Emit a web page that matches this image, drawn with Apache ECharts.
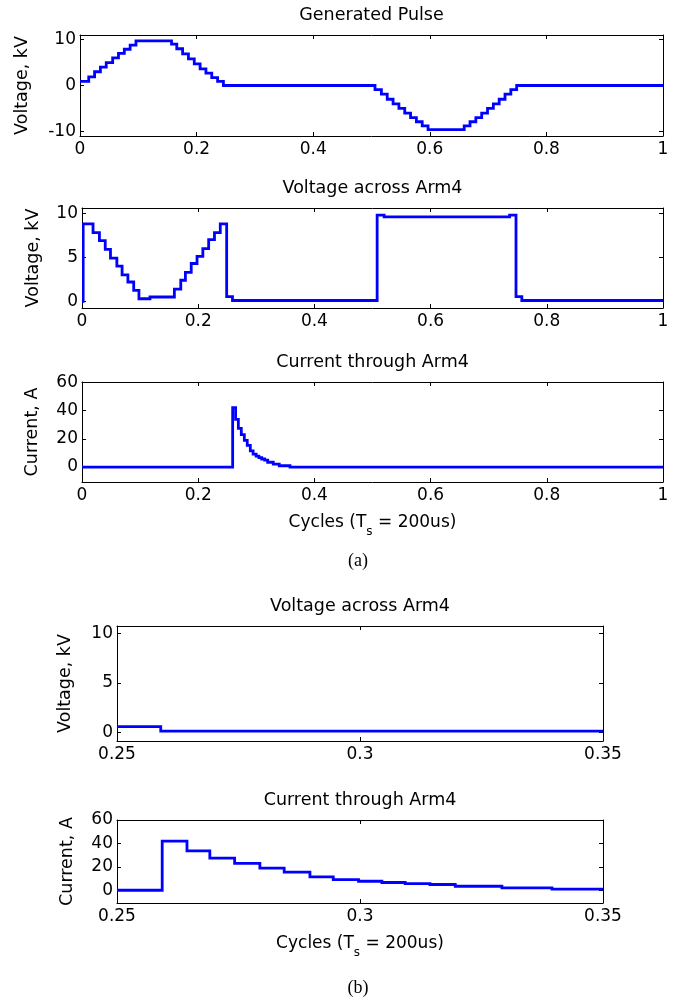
<!DOCTYPE html>
<html><head><meta charset="utf-8">
<script src="https://cdn.jsdelivr.net/npm/echarts@6/dist/echarts.min.js"></script>
<style>html,body{margin:0;padding:0;background:#fff}#c{width:681px;height:1000px}</style>
</head><body><div id="c"></div>
<script>
// ---- data ----
const pulseT = [0, 0.015, 0.025, 0.035, 0.045, 0.056, 0.066, 0.076, 0.086, 0.096,
  0.157, 0.166, 0.176, 0.186, 0.196, 0.206, 0.216, 0.226, 0.236, 0.246,
  0.506, 0.517, 0.527, 0.537, 0.547, 0.557, 0.567, 0.577, 0.587, 0.597,
  0.659, 0.669, 0.679, 0.689, 0.699, 0.709, 0.719, 0.729, 0.739, 0.749, 1];
const pulseV = [0.9, 1.9, 3.0, 4.0, 5.0, 6.0, 7.0, 7.9, 8.8, 9.7,
  9.0, 8.0, 6.9, 5.8, 4.7, 3.6, 2.7, 1.7, 0.9, 0,
  -0.9, -1.9, -3.0, -4.0, -5.0, -6.0, -7.0, -7.9, -8.8, -9.6,
  -8.8, -7.9, -7.0, -6.0, -5.0, -4.0, -3.0, -1.9, -0.9, 0, 0];

const armVT = [0, 0.002, 0.019, 0.030, 0.040, 0.049, 0.060, 0.069, 0.079, 0.089, 0.098, 0.117,
  0.159, 0.170, 0.178, 0.188, 0.198, 0.208, 0.218, 0.228, 0.238, 0.249, 0.259,
  0.508, 0.520, 0.736, 0.747, 0.757, 1];
const armVV = [0, 8.8, 7.8, 6.9, 5.9, 4.9, 4.0, 3.0, 2.2, 1.25, 0.3, 0.5,
  1.4, 2.4, 3.3, 4.3, 5.1, 6.0, 7.0, 7.8, 8.8, 0.55, 0.1,
  9.8, 9.6, 9.8, 0.55, 0.1, 0.1];

const armIT = [0, 0.2593, 0.2644, 0.2691, 0.2742, 0.2794, 0.2844, 0.2897, 0.2945, 0.2997,
  0.3045, 0.3093, 0.3144, 0.3196, 0.3292, 0.3395, 0.358, 1];
const armIV = [0, 42, 33.7, 27.4, 22.9, 18.9, 15.4, 11.4, 9.1, 7.7,
  6.6, 5.7, 4.9, 3.4, 2.0, 0.9, 0, 0];

const titles = ['Generated Pulse', 'Voltage across Arm4', 'Current through Arm4',
  'Voltage across Arm4', 'Current through Arm4'];
const yNames = ['Voltage, kV', 'Voltage, kV', 'Current, A', 'Voltage, kV', 'Current, A'];
const yTicksPulse = [-10, 0, 10];
const yTicksVolt = [0, 5, 10];
const yTicksCurr = [0, 20, 40, 60];
const captions = ['(a)', '(b)'];

// ---- layout ----
const FONT = 'DejaVu Sans';
const FS = 17;
const FT = 17.5;
const grids = [
  {left: 80, top: 35, width: 583, height: 101},
  {left: 82, top: 208, width: 581, height: 100},
  {left: 82, top: 382, width: 581, height: 100},
  {left: 117, top: 626, width: 486, height: 115},
  {left: 117, top: 820, width: 486, height: 83}
];
const xr = [[0,1,0.2],[0,1,0.2],[0,1,0.2],[0.25,0.35,0.05],[0.25,0.35,0.05]];
const yr = [[-11,11,yTicksPulse],[-0.75,10.6,yTicksVolt],[-10.6,60.2,yTicksCurr],[-0.9,10.75,yTicksVolt],[-10.9,60,yTicksCurr]];
const yGap = [49, 40, 41, 43, 41];
const xName = [null, null, 'cyc', null, 'cyc'];
const series = [[pulseT,pulseV],[armVT,armVV],[armIT,armIV],[armVT,armVV],[armIT,armIV]];

// step-shaped polyline points built from the arrays (value held until next time)
function stepPoints(ts, vs) {
  const out = [];
  for (let k = 0; k < ts.length; k++) {
    out.push([ts[k], vs[k]]);
    if (k + 1 < ts.length) out.push([ts[k + 1], vs[k]]);
  }
  return out;
}

const axLine = {show: true, onZero: false, lineStyle: {color: '#000', width: 1}};
const tickStyle = {lineStyle: {color: '#000', width: 1}};
const xAxis = [], yAxis = [], ser = [], graphic = [];
grids.forEach((g, i) => {
  const [x0, x1, iv] = xr[i];
  const [y0, y1, yt] = yr[i];
  const xa = {
    type: 'value', gridIndex: i, min: x0, max: x1, interval: iv, position: 'bottom',
    axisLine: axLine, splitLine: {show: false},
    axisTick: Object.assign({show: true, inside: true, length: 4}, tickStyle),
    axisLabel: {show: true, color: '#000', fontFamily: FONT, fontSize: FS, margin: 5}
  };
  if (xName[i]) {
    xa.name = '{n|Cycles (T}{s|s}{n| = 200us)}';
    xa.nameLocation = 'middle';
    xa.nameGap = 32;
    xa.nameTextStyle = {rich: {
      n: {fontFamily: FONT, fontSize: FS, color: '#000', lineHeight: 18, verticalAlign: 'top'},
      s: {fontFamily: FONT, fontSize: 12, color: '#000', lineHeight: 24, verticalAlign: 'bottom'}
    }};
  }
  xAxis.push(xa);
  xAxis.push({
    type: 'value', gridIndex: i, min: x0, max: x1, interval: iv, position: 'top',
    axisLine: axLine, splitLine: {show: false},
    axisTick: Object.assign({show: true, inside: true, length: 4}, tickStyle),
    axisLabel: {show: false}
  });
  yAxis.push({
    type: 'value', gridIndex: i, min: y0, max: y1, position: 'left',
    name: yNames[i], nameLocation: 'middle', nameGap: yGap[i],
    nameTextStyle: {fontFamily: FONT, fontSize: FT, color: '#000'},
    axisLine: axLine, splitLine: {show: false},
    axisTick: Object.assign({show: true, inside: true, length: 4, customValues: yt}, tickStyle),
    axisLabel: {show: true, color: '#000', fontFamily: FONT, fontSize: FS, margin: 4, customValues: yt}
  });
  yAxis.push({
    type: 'value', gridIndex: i, min: y0, max: y1, position: 'right',
    axisLine: axLine, splitLine: {show: false},
    axisTick: Object.assign({show: true, inside: true, length: 4, customValues: yt}, tickStyle),
    axisLabel: {show: false}
  });
  const [ts, vs] = series[i];
  const pts = stepPoints(ts, vs);
  ser.push({
    type: 'custom', xAxisIndex: 2 * i, yAxisIndex: 2 * i, clip: true,
    data: pts,
    encode: {x: 0, y: 1},
    renderItem: function (params, api) {
      if (params.dataIndex !== 0) return null;
      return {
        type: 'polyline',
        shape: {points: pts.map(p => api.coord(p))},
        style: {stroke: '#0000ff', lineWidth: 2.8, fill: null, lineJoin: 'miter'}
      };
    }
  });
  graphic.push({
    type: 'text', x: g.left + g.width / 2, y: g.top - 20,
    style: {text: titles[i], align: 'center', verticalAlign: 'middle',
      fontFamily: FONT, fontSize: FT, fill: '#000'}
  });
});
graphic.push({type: 'text', x: 358, y: 561, style: {text: captions[0], align: 'center', verticalAlign: 'middle', fontFamily: 'Liberation Serif', fontSize: 18, fill: '#000'}});
graphic.push({type: 'text', x: 358, y: 988, style: {text: captions[1], align: 'center', verticalAlign: 'middle', fontFamily: 'Liberation Serif', fontSize: 18, fill: '#000'}});

const chart = echarts.init(document.getElementById('c'), null, {renderer: 'canvas'});
chart.setOption({
  animation: false,
  backgroundColor: '#fff',
  grid: grids.map(g => Object.assign({containLabel: false, show: false}, g)),
  xAxis, yAxis, series: ser, graphic
});
</script>
</body></html>
